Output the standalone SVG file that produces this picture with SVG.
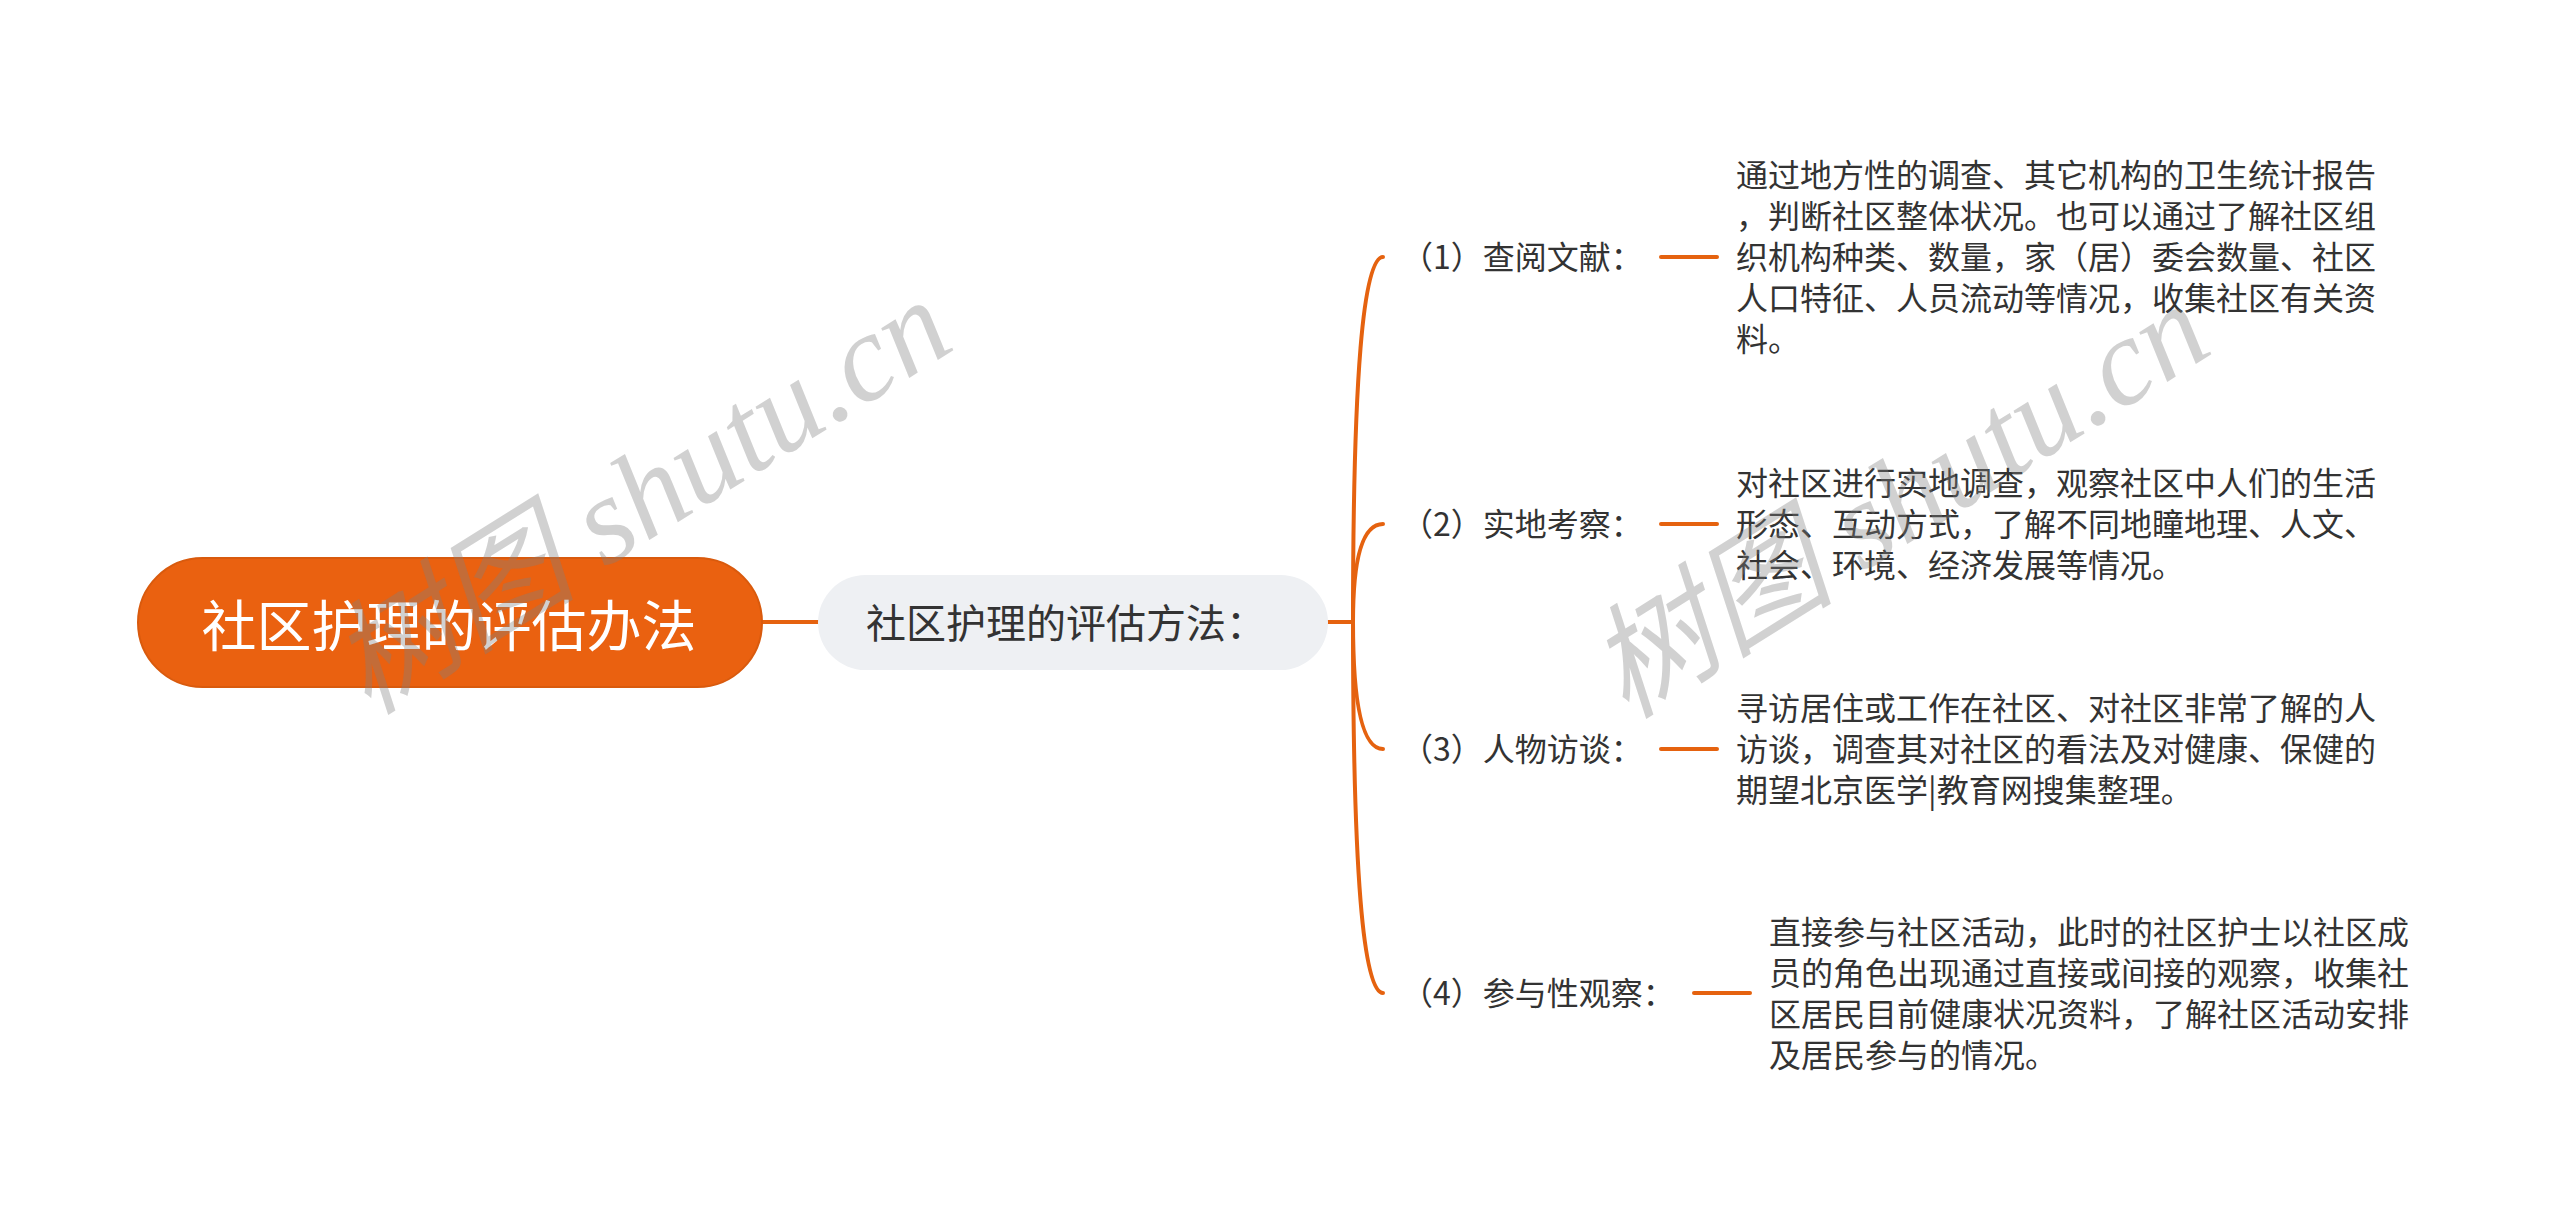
<svg xmlns="http://www.w3.org/2000/svg" width="2560" height="1225" viewBox="0 0 2560 1225">
<style>
.t{font-family:"Noto Sans CJK SC","Noto Sans",sans-serif;fill:#333333}
.lbl{font-size:32px}
.desc{font-size:32px}
.ln{fill:none;stroke:#e5620f;stroke-width:4;stroke-linecap:round}
.wm{font-family:"Liberation Serif","Noto Sans CJK SC",serif;font-style:italic;font-size:124px;fill:#808080;fill-opacity:0.36}
</style>
<rect width="2560" height="1225" fill="#ffffff"/>
<g id="connectors">
<line class="ln" x1="762" y1="622" x2="818" y2="622"/>
<line class="ln" x1="1328" y1="622" x2="1353" y2="622"/>
<path class="ln" d="M1353 622 Q1353 257 1383 257"/>
<path class="ln" d="M1353 622 Q1353 524 1383 524"/>
<path class="ln" d="M1353 622 Q1353 749 1383 749"/>
<path class="ln" d="M1353 622 Q1353 993 1383 993"/>
<line class="ln" x1="1661" y1="257" x2="1717" y2="257"/>
<line class="ln" x1="1661" y1="524" x2="1717" y2="524"/>
<line class="ln" x1="1661" y1="749" x2="1717" y2="749"/>
<line class="ln" x1="1694" y1="993" x2="1750" y2="993"/>
</g>
<g id="root">
<rect x="138" y="558" width="624" height="129" rx="64.5" fill="#ea6110" stroke="#d95a0d" stroke-width="2"/>
<text x="449" y="646" text-anchor="middle" style="font-family:'Noto Sans CJK SC',sans-serif;font-size:55px;fill:#ffffff">社区护理的评估办法</text>
</g>
<g id="main">
<rect x="818" y="575" width="510" height="95" rx="47.5" fill="#eef0f3"/>
<text class="t" x="866" y="638" style="font-size:40px">社区护理的评估方法：</text>
</g>
<g id="item1">
<text class="t lbl" x="1401" y="269">（1）查阅文献：</text>
<text class="t desc" x="1736">
<tspan x="1736" y="187">通过地方性的调查、其它机构的卫生统计报告</tspan>
<tspan x="1736" y="228">，判断社区整体状况。也可以通过了解社区组</tspan>
<tspan x="1736" y="269">织机构种类、数量，家（居）委会数量、社区</tspan>
<tspan x="1736" y="310">人口特征、人员流动等情况，收集社区有关资</tspan>
<tspan x="1736" y="351">料。</tspan>
</text>
</g>
<g id="item2">
<text class="t lbl" x="1401" y="536">（2）实地考察：</text>
<text class="t desc" x="1736">
<tspan x="1736" y="495">对社区进行实地调查，观察社区中人们的生活</tspan>
<tspan x="1736" y="536">形态、互动方式，了解不同地瞳地理、人文、</tspan>
<tspan x="1736" y="577">社会、环境、经济发展等情况。</tspan>
</text>
</g>
<g id="item3">
<text class="t lbl" x="1401" y="761">（3）人物访谈：</text>
<text class="t desc" x="1736">
<tspan x="1736" y="720">寻访居住或工作在社区、对社区非常了解的人</tspan>
<tspan x="1736" y="761">访谈，调查其对社区的看法及对健康、保健的</tspan>
<tspan x="1736" y="802">期望北京医学|教育网搜集整理。</tspan>
</text>
</g>
<g id="item4">
<text class="t lbl" x="1401" y="1005">（4）参与性观察：</text>
<text class="t desc" x="1769">
<tspan x="1769" y="944">直接参与社区活动，此时的社区护士以社区成</tspan>
<tspan x="1769" y="985">员的角色出现通过直接或间接的观察，收集社</tspan>
<tspan x="1769" y="1026">区居民目前健康状况资料，了解社区活动安排</tspan>
<tspan x="1769" y="1067">及居民参与的情况。</tspan>
</text>
</g>
<g id="watermarks">
<text class="wm" transform="translate(368 716) rotate(-32)">树图 shutu.cn</text>
<text class="wm" transform="translate(1626 720) rotate(-32)">树图 shutu.cn</text>
</g>
</svg>
